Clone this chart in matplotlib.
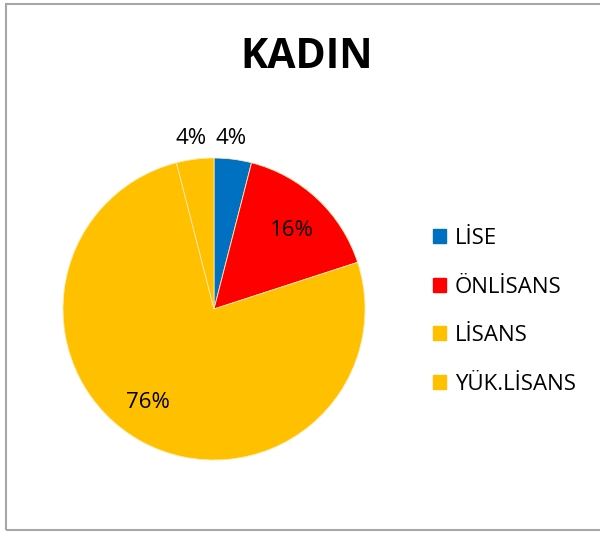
import matplotlib
matplotlib.use("Agg")
import matplotlib.pyplot as plt
from matplotlib.patches import Patch, Rectangle

categories = ["LİSE", "ÖNLİSANS", "LİSANS", "YÜK.LİSANS"]
values = [4, 16, 76, 4]
colors = ["#0070C0", "#FF0000", "#FFC000", "#FFC000"]
title = "KADIN"

plt.rcParams['font.family'] = ['Open Sans', 'DejaVu Sans']

W, H = 600, 534
fig = plt.figure(figsize=(W / 100, H / 100), dpi=100)
fig.patch.set_facecolor("white")

# chart border
fig.add_artist(Rectangle((6 / W, 1 - 530 / H), 700 / W, 526 / H, transform=fig.transFigure,
                         fill=False, edgecolor="#A6A6A6", lw=1.5))

cx, cy, r = 214, 309, 151
ax = fig.add_axes([(cx - r) / W, (H - cy - r) / H, 2 * r / W, 2 * r / H])
wedges, _ = ax.pie(values, colors=colors, startangle=90, counterclock=False, radius=1,
                   wedgeprops=dict(edgecolor="#FFE9B0", linewidth=0.6))
ax.set_xlim(-1, 1)
ax.set_ylim(-1, 1)
ax.set_aspect("equal")
ax.axis("off")

fs = 16
labels = [f"{v}%" for v in values]
ax.text(0.517, 0.522, labels[1], ha="center", va="center", fontsize=fs, color="black")
ax.text(-0.437, -0.618, labels[2], ha="center", va="center", fontsize=fs, color="black")
ax.text(0.113, 1.132, labels[0], ha="center", va="center", fontsize=fs, color="black")
ax.text(-0.152, 1.132, labels[3], ha="center", va="center", fontsize=fs, color="black")

fig.text(307 / W, 1 - 58 / H, title, ha="center", va="center", fontsize=29.5,
         fontweight="bold", color="black")

handles = [Patch(facecolor=c, edgecolor=c) for c in colors]
leg = fig.legend(handles, categories, loc="upper left", bbox_to_anchor=(433 / W, 1 - 228 / H),
                 frameon=False, fontsize=16, handlelength=0.58, handleheight=0.58,
                 handletextpad=0.4, labelspacing=1.24, borderaxespad=0, borderpad=0)

fig.savefig("out.png", dpi=100, facecolor="white")
